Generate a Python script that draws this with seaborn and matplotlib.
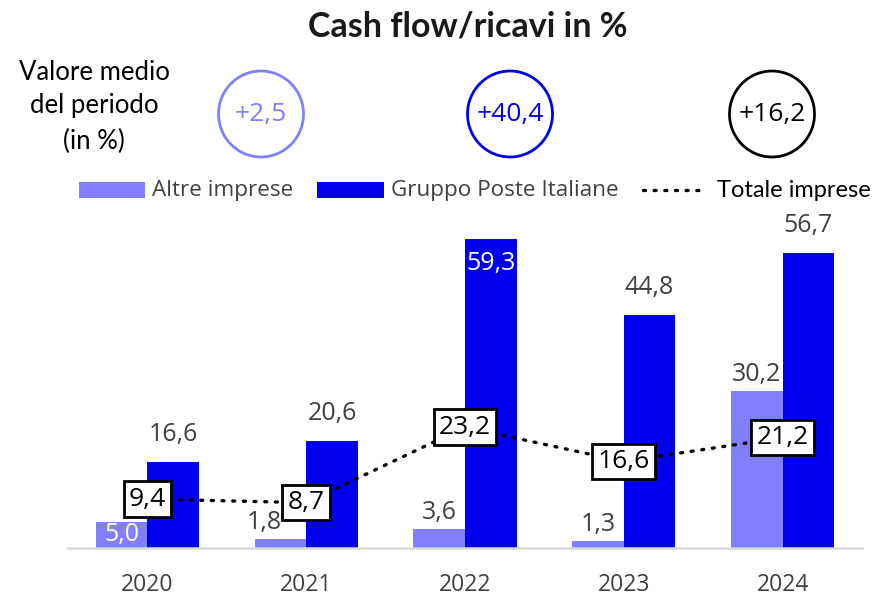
import matplotlib
matplotlib.use("Agg")
import matplotlib.pyplot as plt
from matplotlib.patches import Ellipse, Rectangle
from matplotlib.lines import Line2D
import seaborn as sns
import pandas as pd

# ---- data ----
years = ["2020", "2021", "2022", "2023", "2024"]
altre = [5.0, 1.8, 3.6, 1.3, 30.2]
gruppo = [16.6, 20.6, 59.3, 44.8, 56.7]
totale = [9.4, 8.7, 23.2, 16.6, 21.2]
series_names = ["Altre imprese", "Gruppo Poste Italiane", "Totale imprese"]
medie = [2.5, 40.4, 16.2]
title = "Cash flow/ricavi in %"
left_note = ["Valore medio", "del periodo", "(in %)"]

LIGHT = "#8080FF"
BLUE = "#0000EE"
GREY = "#404040"

def fmt(v):
    return f"{v:.1f}".replace(".", ",")

df = pd.DataFrame({
    "Anno": years * 2,
    "Valore": altre + gruppo,
    "Serie": [series_names[0]] * len(years) + [series_names[1]] * len(years),
})

sns.set_theme(style="white")
plt.rcParams["font.family"] = ["Open Sans", "DejaVu Sans"]

W, H = 876, 599
fig = plt.figure(figsize=(W / 100, H / 100), dpi=100)
ax = fig.add_axes([68 / W, 1 - 548 / H, (862 - 68) / W, (548 - 225) / H])

sns.barplot(data=df, x="Anno", y="Valore", hue="Serie", order=years,
            hue_order=series_names[:2], palette=[LIGHT, BLUE], width=0.65,
            saturation=1, linewidth=0, legend=False, ax=ax, zorder=2)

sns.pointplot(x=years, y=totale, order=years, color="black", marker="",
              linestyle=(0, (0.6, 2.6)), linewidth=2.4, errorbar=None, ax=ax)
for ln in ax.lines:
    ln.set_dash_capstyle("round")
    ln.set_zorder(3)

ax.set_xlim(-0.5, len(years) - 0.5)
ax.set_ylim(0, 62)
ax.set_xlabel("")
ax.set_ylabel("")
ax.set_yticks([])
for s in ["top", "left", "right"]:
    ax.spines[s].set_visible(False)
ax.spines["bottom"].set_color("#D9D9D9")
ax.spines["bottom"].set_linewidth(1.8)
ax.set_xticks(range(len(years)))
ax.set_xticklabels(years)
ax.set_xticks([i - 0.5 for i in range(len(years) + 1)], minor=True)
ax.tick_params(axis="x", which="major", length=0, pad=18, labelsize=16.5, labelcolor=GREY)
ax.tick_params(axis="x", which="minor", length=8, width=1.8, color="#D9D9D9", direction="out")
ax.set_facecolor("white")

# bar value labels
cont_altre, cont_gruppo = ax.containers[0], ax.containers[1]
for i, (bar, v) in enumerate(zip(cont_altre, altre)):
    cx = bar.get_x() + bar.get_width() / 2
    if 4.5 <= v < 10:
        ax.text(cx, v / 2, fmt(v), ha="center", va="center", color="white", fontsize=18, zorder=4)
    else:
        # shift left when the label would collide with the total box
        dx = -16 if abs(totale[i] - v) < 9 else 0
        ax.annotate(fmt(v), (cx, v), xytext=(dx, 4), textcoords="offset pixels",
                    ha="center", va="bottom", color=GREY, fontsize=18, zorder=4)
for bar, v in zip(cont_gruppo, gruppo):
    cx = bar.get_x() + bar.get_width() / 2
    if v == max(gruppo):
        ax.annotate(fmt(v), (cx, v), xytext=(0, -12), textcoords="offset pixels",
                    ha="center", va="top", color="white", fontsize=18, zorder=4)
    else:
        ax.annotate(fmt(v), (cx, v), xytext=(0, 15), textcoords="offset pixels",
                    ha="center", va="bottom", color=GREY, fontsize=18, zorder=4)

# total boxes
for i, v in enumerate(totale):
    ax.text(i, v, fmt(v), ha="center", va="center", color="black", fontsize=19, zorder=6,
            bbox=dict(boxstyle="square,pad=0.2", facecolor="white", edgecolor="black", linewidth=2))

# title
fig.text(468 / W, 1 - 26 / H, title, ha="center", va="center", fontsize=24.5,
         fontweight="bold", family=["Lato", "DejaVu Sans"], color="#1a1a1a")

# left note
for t, y in zip(left_note, [73, 106, 141]):
    fig.text(94 / W, 1 - y / H, t, ha="center", va="center", fontsize=18.5,
             family=["Lato", "DejaVu Sans"], color="black")

# average circles
circ_x = [261, 510, 772]
circ_col = [LIGHT, BLUE, "black"]
for cx, col, m in zip(circ_x, circ_col, medie):
    e = Ellipse((cx / W, 1 - 114 / H), 85 / W, 86 / H, transform=fig.transFigure,
                facecolor="none", edgecolor=col, linewidth=2)
    fig.add_artist(e)
    fig.text(cx / W, 1 - 115 / H, "+" + fmt(m), ha="center", va="center",
             fontsize=19, color=col)

# legend (manual)
ly = 190
fig.add_artist(Rectangle((79 / W, 1 - (ly + 8) / H), 66 / W, 16 / H,
                         transform=fig.transFigure, facecolor=LIGHT, edgecolor="none"))
fig.text(152 / W, 1 - ly / H, series_names[0], ha="left", va="center", fontsize=16.2, color=GREY)
fig.add_artist(Rectangle((317 / W, 1 - (ly + 8) / H), 67 / W, 16 / H,
                         transform=fig.transFigure, facecolor=BLUE, edgecolor="none"))
fig.text(391 / W, 1 - ly / H, series_names[1], ha="left", va="center", fontsize=16.2, color=GREY)
lg = Line2D([643 / W, 703 / W], [1 - ly / H, 1 - ly / H], transform=fig.transFigure,
            color="black", linewidth=2.4, linestyle=(0, (0.6, 2.6)), dash_capstyle="round")
fig.add_artist(lg)
fig.text(717 / W, 1 - ly / H, series_names[2], ha="left", va="center", fontsize=17,
         family=["Lato", "DejaVu Sans"], color="black")

fig.savefig("out.png", dpi=100, facecolor="white")
